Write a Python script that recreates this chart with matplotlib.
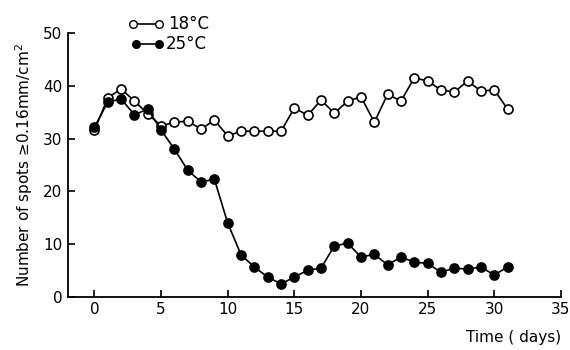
import numpy as np
from matplotlib import pyplot as plt

# spot counts per day at two temperatures
days = list(range(0, 32))
spots_18 = [31.6, 37.7, 39.4, 37.1, 34.7, 32.4, 33.1, 33.3, 31.8, 33.5,
            30.5, 31.4, 31.4, 31.4, 31.4, 35.8, 34.4, 37.3, 34.8, 37.1,
            37.9, 33.1, 38.4, 37.1, 41.5, 40.9, 39.2, 38.8, 40.9, 39.0,
            39.2, 35.6]
spots_25 = [32.2, 36.9, 37.5, 34.5, 35.6, 31.6, 28.0, 24.0, 21.8, 22.3,
            14.0, 8.0, 5.7, 3.8, 2.5, 3.8, 5.1, 5.5, 9.7, 10.2,
            7.6, 8.1, 6.1, 7.6, 6.6, 6.4, 4.7, 5.5, 5.3, 5.7,
            4.2, 5.7]
x_ticks = [0, 5, 10, 15, 20, 25, 30, 35]
y_ticks = [0, 10, 20, 30, 40, 50]

plt.rcParams['font.family'] = ['DejaVu Sans']

fig = plt.figure(figsize=(5.7, 3.5), dpi=100)
ax = fig.add_axes([0.119, 0.151, 0.865, 0.755])

ax.plot(days, spots_18, '-o', color='black', mfc='white', mec='black',
        ms=6.5, mew=1.2, lw=1.2, clip_on=False, zorder=3)
ax.plot(days, spots_25, '-o', color='black', mfc='black', mec='black',
        ms=6.5, mew=1.2, lw=1.2, clip_on=False, zorder=3)

ax.set_xlim(-2, 35)
ax.set_ylim(0, 50)
ax.set_xticks(x_ticks)
ax.set_yticks(y_ticks)
for side in ['top', 'right']:
    ax.spines[side].set_visible(False)
for side in ['left', 'bottom']:
    ax.spines[side].set_linewidth(1.3)
ax.tick_params(direction='in', length=5, width=1.2, labelsize=11)
ax.tick_params(axis='y', pad=4)

ax.set_ylabel('Number of spots ≥0.16mm/cm$^2$', fontsize=11, labelpad=6)
fig.text(0.984, 0.015, 'Time ( days)', fontsize=11, ha='right', va='bottom')

# hand-drawn legend above the plot
fig.lines.append(plt.Line2D([133 / 570, 159 / 570], [1 - 24 / 350] * 2,
                            transform=fig.transFigure, color='black', lw=1.2,
                            marker='o', mfc='white', mec='black', ms=5.5))
fig.lines.append(plt.Line2D([136 / 570, 159 / 570], [1 - 44 / 350] * 2,
                            transform=fig.transFigure, color='black', lw=1.2,
                            marker='o', mfc='black', mec='black', ms=5.5))
fig.text(168 / 570, 1 - 24 / 350, '18°C', fontsize=12, va='center')
fig.text(166 / 570, 1 - 44 / 350, '25°C', fontsize=12, va='center')

fig.savefig('out.png', dpi=100)
